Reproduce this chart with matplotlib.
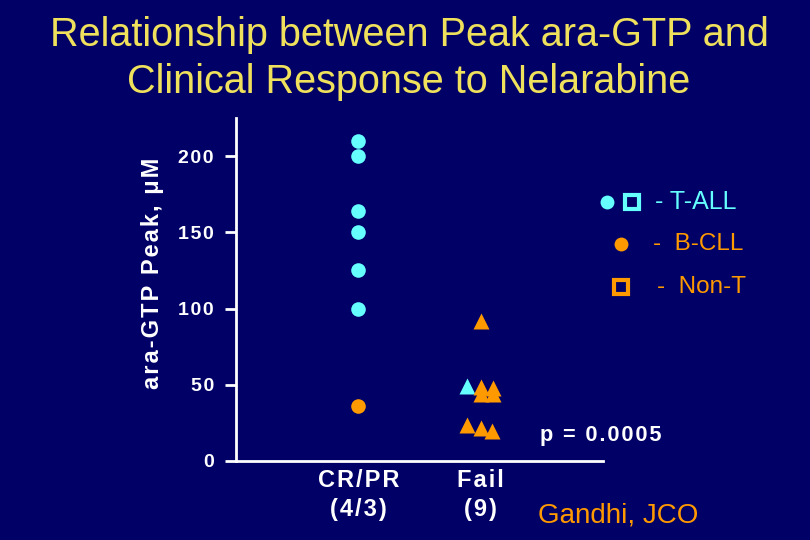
import matplotlib.pyplot as plt
import numpy as np
from matplotlib.lines import Line2D

# data
groups = ['CR/PR\n(4/3)', 'Fail\n(9)']
group_pos = [1, 2]
yticks = [0, 50, 100, 150, 200]

# CR/PR: circles
crpr_tall = [210, 200, 164, 150, 125, 100]
crpr_bcll = [36]

# Fail: triangles (x offsets = jitter around the category)
fail_tall = [49]
fail_tall_dx = [-0.11]
fail_nont = [92, 48.5, 48, 44, 44, 23.5, 21.5, 19.5]
fail_nont_dx = [0.0, 0.0, 0.10, 0.0, 0.10, -0.11, 0.0, 0.09]

bg = '#000066'
cyan = '#66FFFF'
orange = '#FF9900'
title_col = '#F0E15C'


def spaced(s):
    # wide letter spacing like the slide font (hair spaces)
    return '\n'.join('\u200a'.join(line) for line in s.split('\n'))


plt.rcParams['font.family'] = ['Liberation Sans', 'DejaVu Sans']

fig = plt.figure(figsize=(8.1, 5.4), dpi=100, facecolor=bg)
ax = fig.add_axes([0.2914, 0.1463, 0.4531, 0.635])
ax.set_facecolor(bg)

ax.plot([group_pos[0]] * len(crpr_tall), crpr_tall, 'o', color=cyan, ms=10.5, mec='none')
ax.plot([group_pos[0]] * len(crpr_bcll), crpr_bcll, 'o', color=orange, ms=10.5, mec='none')
ax.plot(group_pos[1] + np.array(fail_tall_dx), fail_tall, '^', color=cyan, ms=11, mec='none')
ax.plot(group_pos[1] + np.array(fail_nont_dx), fail_nont, '^', color=orange, ms=11, mec='none')

ax.set_xlim(0, 3)
ax.set_ylim(0, 225)
ax.set_yticks(yticks)
ax.set_yticklabels([spaced(str(t)) for t in yticks])
ax.set_xticks([])
for s in ['top', 'right']:
    ax.spines[s].set_visible(False)
for s in ['left', 'bottom']:
    ax.spines[s].set_color('white')
    ax.spines[s].set_linewidth(2)
ax.tick_params(axis='y', colors='white', length=8, width=2, pad=8, labelsize=14)
for lab in ax.get_yticklabels():
    lab.set_fontweight('bold')

fig.text(152 / 810, 1 - 273 / 540, spaced('ara-GTP Peak, μM'), rotation=90, color='white',
         fontsize=17, fontweight='bold', ha='center', va='center')

# group labels under the axis
for x, g in zip(group_pos, groups):
    ax.text(x, -5, spaced(g), ha='center', va='top', color='white', fontsize=17,
            fontweight='bold', linespacing=1.35)

fig.text(0.505, 0.971, 'Relationship between Peak ara-GTP and\nClinical Response to Nelarabine',
         ha='center', va='top', color=title_col, fontsize=28.5, linespacing=1.3)

# legend drawn by hand
def fig_marker(x, y, marker, color, filled=True):
    fig.add_artist(Line2D([x / 810], [1 - y / 540], transform=fig.transFigure,
                          marker=marker, ms=10,
                          color=color, mfc=color if filled else bg,
                          mec=color, mew=0 if filled else 3, ls='none'))


fig_marker(607, 202, 'o', cyan)
fig_marker(632, 202, 's', cyan, filled=False)
fig.text(655 / 810, 1 - 202 / 540, '- T-ALL', color=cyan, fontsize=18, ha='left', va='center')
fig_marker(621, 244, 'o', orange)
fig.text(653 / 810, 1 - 244 / 540, '-  B-CLL', color=orange, fontsize=17.5, ha='left', va='center')
fig_marker(621, 287, 's', orange, filled=False)
fig.text(657 / 810, 1 - 287 / 540, '-  Non-T', color=orange, fontsize=17.5, ha='left', va='center')

fig.text(540 / 810, 1 - 436 / 540, spaced('p = 0.0005'), color='white', fontsize=15.7,
         fontweight='bold', ha='left', va='center')
fig.text(538 / 810, 1 - 516 / 540, 'Gandhi, JCO', color=orange, fontsize=20,
         ha='left', va='center')

fig.savefig('out.png', dpi=100, facecolor=bg)
